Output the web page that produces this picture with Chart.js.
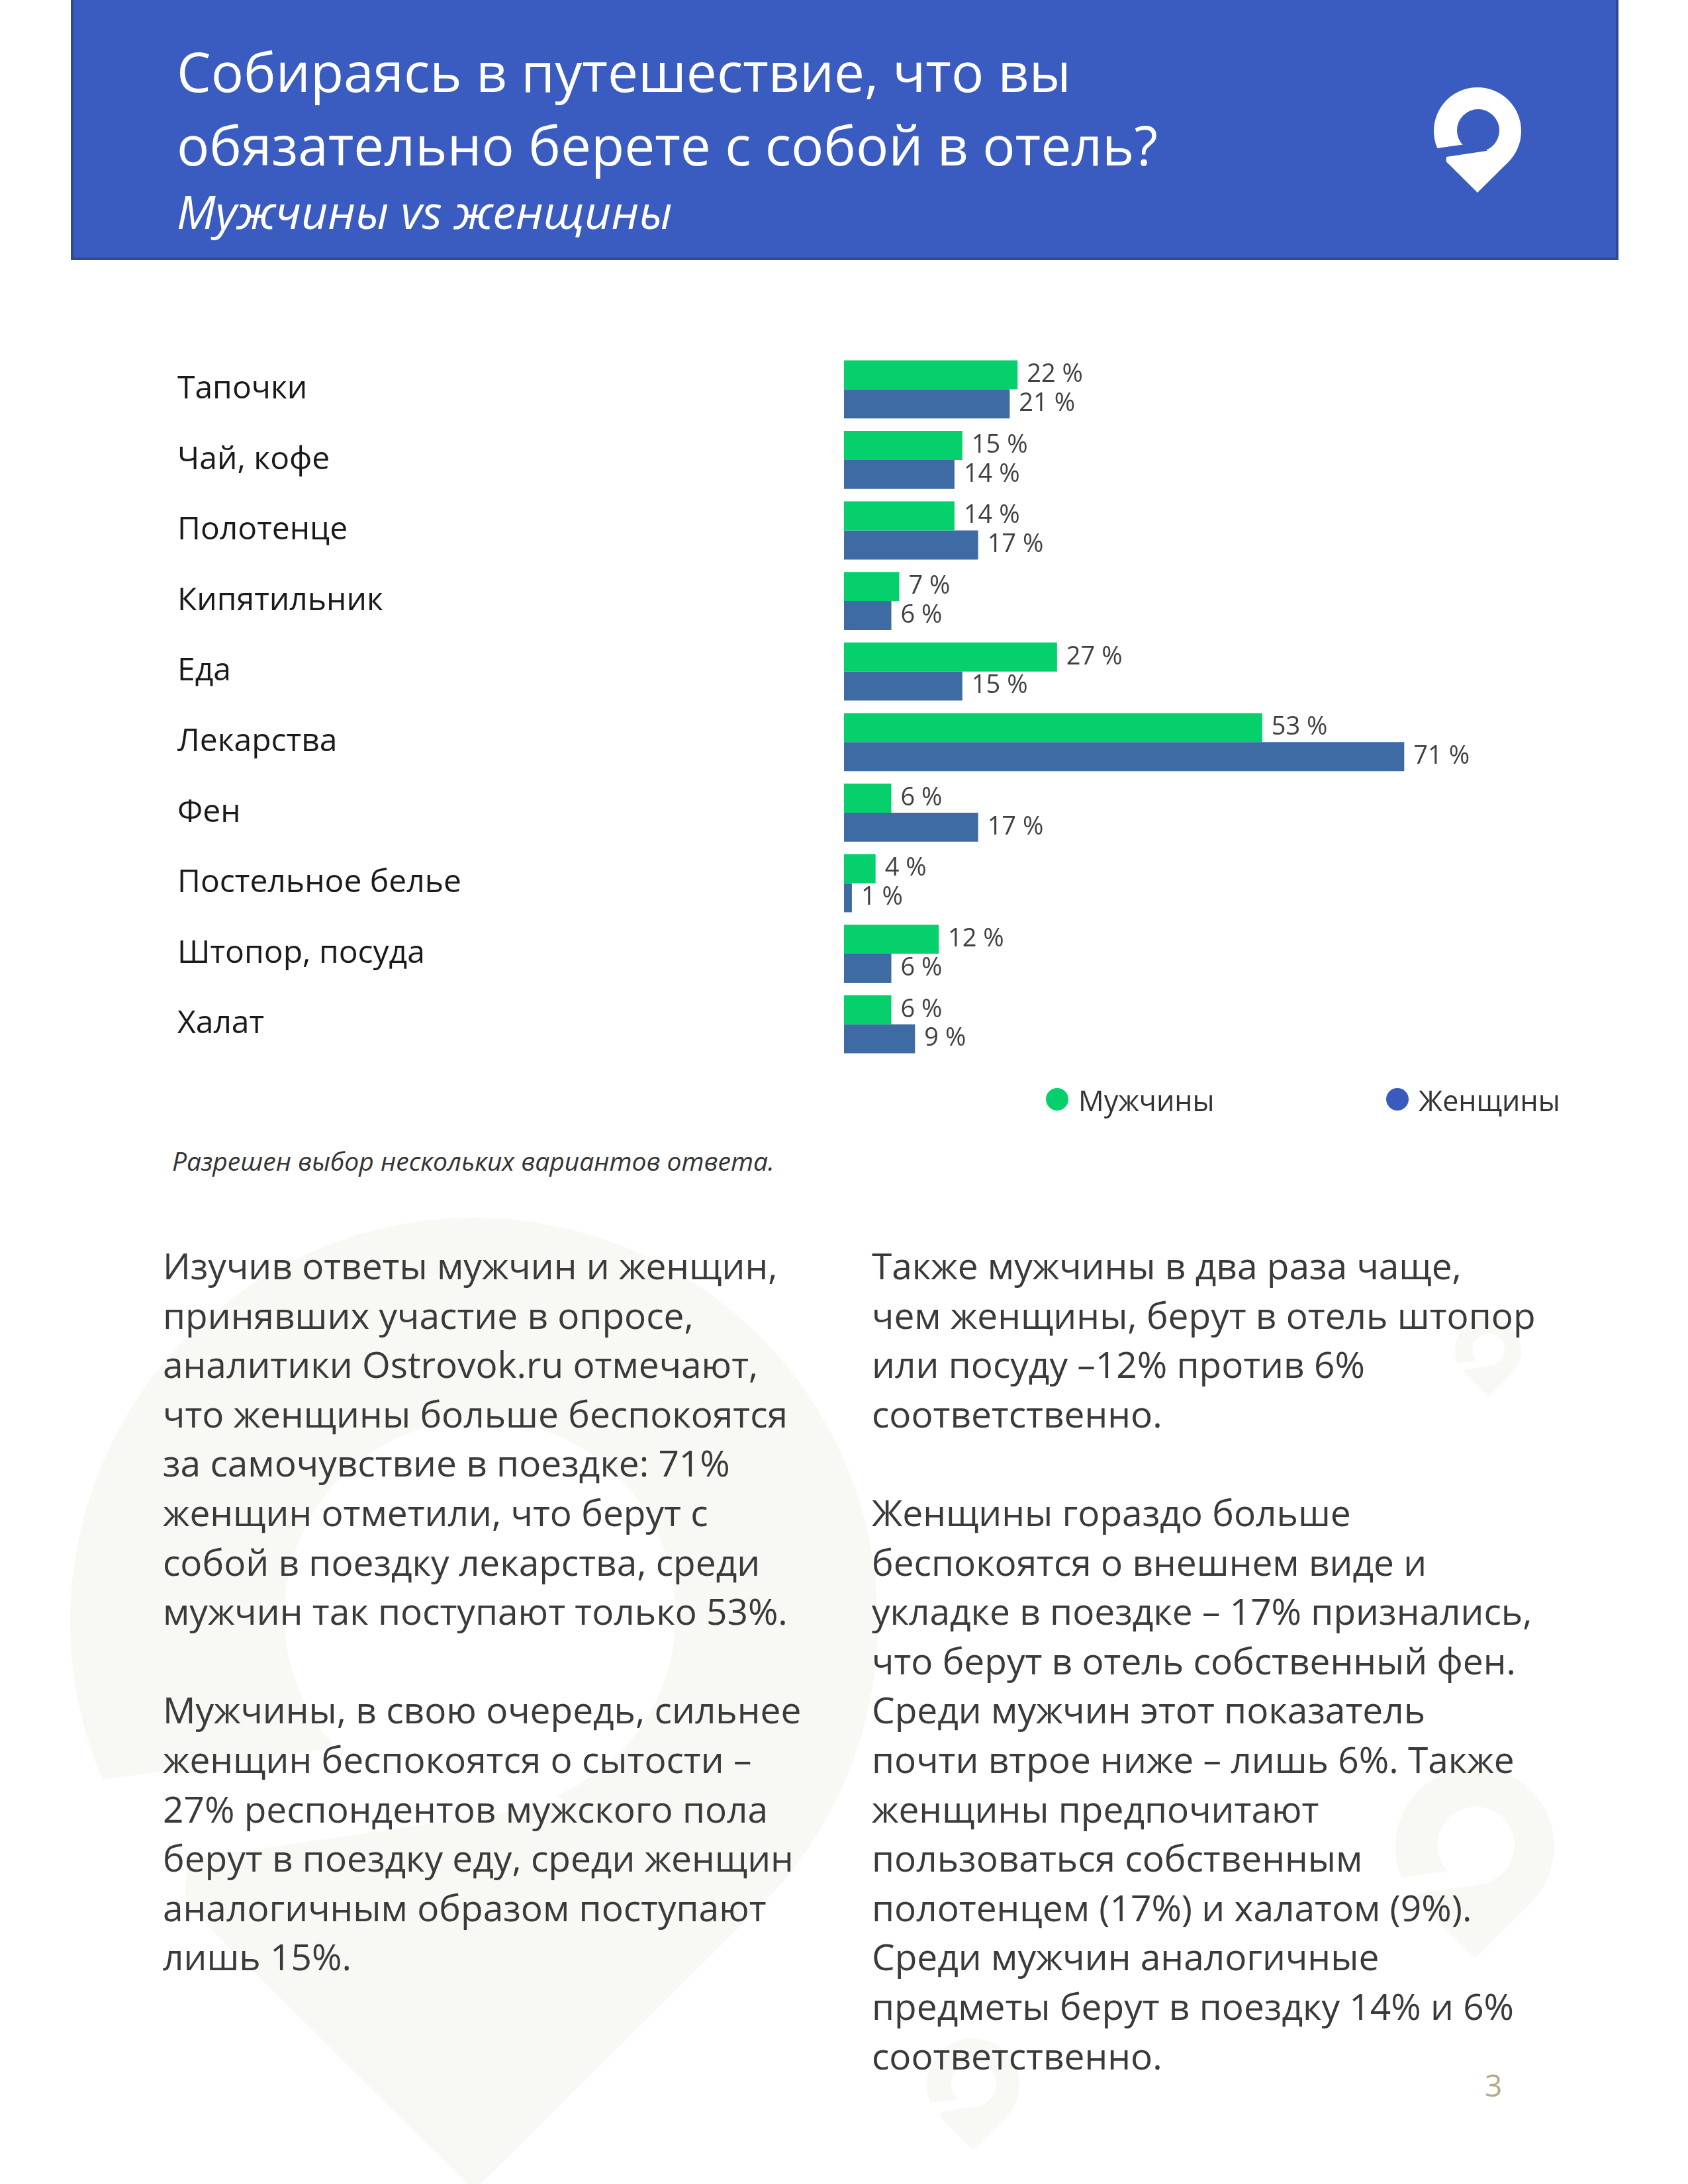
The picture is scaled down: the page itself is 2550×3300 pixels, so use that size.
<!DOCTYPE html>
<html lang="ru">
<head>
<meta charset="utf-8">
<title>Собираясь в путешествие</title>
<script src="https://cdn.jsdelivr.net/npm/chart.js@4/dist/chart.umd.min.js"></script>
<style>
  html, body { margin: 0; padding: 0; background: #ffffff; }
  body { width: 2550px; height: 3300px; position: relative; overflow: hidden; font-family: "Open Sans", sans-serif; }
  #bg { position: absolute; left: 0; top: 0; z-index: 0; }
  .header {
    position: absolute; left: 107px; top: -4px; width: 2330px; height: 389px;
    background: #3a5bbf; border: 4px solid #2f4b92; z-index: 1;
  }
  .title { position: absolute; left: 267px; color: #ffffff; font-size: 82px; line-height: 111px; white-space: nowrap; z-index: 2; }
  .subtitle { font-style: italic; font-size: 70px; }
  #logo { position: absolute; left: 0; top: 0; z-index: 2; }
  #chartBox { position: absolute; left: 268px; top: 495px; z-index: 2; }
  .legend { position: absolute; top: 1638px; font-size: 43px; line-height: 50px; color: #333333; white-space: nowrap; z-index: 2; }
  .dot { position: absolute; width: 34px; height: 34px; border-radius: 50%; top: 1644px; z-index: 2; }
  .note { position: absolute; left: 260px; top: 1729px; font-size: 39px; line-height: 50px; font-style: italic; color: #333333; white-space: nowrap; z-index: 2; }
  .col { position: absolute; top: 1875px; font-size: 55px; line-height: 74.6px; color: #3a3a3a; white-space: nowrap; z-index: 2; }
  .page { position: absolute; left: 2243px; top: 3125px; font-size: 46px; line-height: 50px; color: #b3aa8a; z-index: 2; }
</style>
</head>
<body>
<svg id="bg" width="2550" height="3300"></svg>

<div class="header"></div>
<svg id="logo" width="2550" height="400"></svg>
<div class="title" style="top:52px">Собираясь в путешествие, что вы</div>
<div class="title" style="top:163px">обязательно берете с собой в отель?</div>
<div class="title subtitle" style="top:264px">Мужчины vs женщины</div>

<div id="chartBox"><canvas id="barChart" width="2199" height="1146"></canvas></div>

<div id="legend"></div>

<div class="note">Разрешен выбор нескольких вариантов ответа.</div>

<div class="col" style="left:246px">
Изучив ответы мужчин и женщин,<br>
принявших участие в опросе,<br>
аналитики Ostrovok.ru отмечают,<br>
что женщины больше беспокоятся<br>
за самочувствие в поездке: 71%<br>
женщин отметили, что берут с<br>
собой в поездку лекарства, среди<br>
мужчин так поступают только 53%.<br>
<br>
Мужчины, в свою очередь, сильнее<br>
женщин беспокоятся о сытости –<br>
27% респондентов мужского пола<br>
берут в поездку еду, среди женщин<br>
аналогичным образом поступают<br>
лишь 15%.
</div>

<div class="col" style="left:1317px">
Также мужчины в два раза чаще,<br>
чем женщины, берут в отель штопор<br>
или посуду –12% против 6%<br>
соответственно.<br>
<br>
Женщины гораздо больше<br>
беспокоятся о внешнем виде и<br>
укладке в поездке – 17% признались,<br>
что берут в отель собственный фен.<br>
Среди мужчин этот показатель<br>
почти втрое ниже – лишь 6%. Также<br>
женщины предпочитают<br>
пользоваться собственным<br>
полотенцем (17%) и халатом (9%).<br>
Среди мужчин аналогичные<br>
предметы берут в поездку 14% и 6%<br>
соответственно.
</div>

<div class="page">3</div>

<script>
/**
 * Survey: what do travellers take to the hotel, men vs women
 */

// Chart data
const categories = [
    'Тапочки', 'Чай, кофе', 'Полотенце', 'Кипятильник', 'Еда',
    'Лекарства', 'Фен', 'Постельное белье', 'Штопор, посуда', 'Халат'
];
const seriesNames = ['Мужчины', 'Женщины'];
const menValues = [22, 15, 14, 7, 27, 53, 6, 4, 12, 6];
const womenValues = [21, 14, 17, 6, 15, 71, 17, 1, 6, 9];

// Colors
const BAR_COLORS = ['#06d06c', '#3e6ba3'];
const LEGEND_COLORS = ['#06d06c', '#3a5abd'];
const HEADER_BLUE = '#3a5bbf';
const WATERMARK = '#f8f8f4';

const LABEL_GAP = 14;

/**
 * Pin logo: ring with a slit and a point, unit radius scaled by r
 */
function pinSvg(cx, cy, r, fill, cut) {
    const p = (x, y) => `${(cx + x * r).toFixed(1)},${(cy + y * r).toFixed(1)}`;
    return `
        <circle cx="${cx}" cy="${cy}" r="${r}" fill="${fill}"/>
        <polygon points="${p(-0.705, 0.709)} ${p(0.705, 0.709)} ${p(0, 1.41)}" fill="${fill}"/>
        <circle cx="${cx + 0.015 * r}" cy="${cy - 0.015 * r}" r="${0.485 * r}" fill="${cut}"/>
        <polygon points="${p(-1.2, 0.43)} ${p(-0.39, 0.32)} ${p(0, 0.3)} ${p(0.23, 0.45)} ${p(-0.71, 0.59)} ${p(-0.75, 1.2)} ${p(-1.2, 1.2)}" fill="${cut}"/>`;
}

document.getElementById('logo').innerHTML = pinSvg(2232, 198, 66, '#ffffff', HEADER_BLUE);

document.getElementById('bg').innerHTML =
    pinSvg(716, 2450, 610, WATERMARK, '#ffffff') +
    pinSvg(2248, 2040, 50, WATERMARK, '#ffffff') +
    pinSvg(2228, 2790, 120, WATERMARK, '#ffffff') +
    pinSvg(1470, 3150, 70, WATERMARK, '#ffffff');

/**
 * Legend built from the series names
 */
function buildLegend() {
    const legend = document.getElementById('legend');
    const dotX = [1580, 2094];
    legend.innerHTML = seriesNames.map((name, i) => `
        <div class="dot" style="left:${dotX[i]}px; background:${LEGEND_COLORS[i]}"></div>
        <div class="legend" style="left:${dotX[i] + 49}px">${name}</div>
    `).join('');
}

/**
 * Draw "NN %" next to every bar
 */
const valueLabels = {
    id: 'valueLabels',
    afterDatasetsDraw(chart) {
        const ctx = chart.ctx;
        ctx.save();
        ctx.font = '38px "Open Sans"';
        ctx.fillStyle = '#404040';
        ctx.textBaseline = 'middle';
        ctx.textAlign = 'left';
        chart.data.datasets.forEach((ds, i) => {
            chart.getDatasetMeta(i).data.forEach((bar, j) => {
                ctx.fillText(`${ds.data[j]} %`, bar.x + LABEL_GAP, bar.y);
            });
        });
        ctx.restore();
    }
};

function initChart() {
    const ctx = document.getElementById('barChart').getContext('2d');
    new Chart(ctx, {
        type: 'bar',
        data: {
            labels: categories,
            datasets: [
                { label: seriesNames[0], data: menValues, backgroundColor: BAR_COLORS[0] },
                { label: seriesNames[1], data: womenValues, backgroundColor: BAR_COLORS[1] }
            ]
        },
        options: {
            indexAxis: 'y',
            responsive: false,
            devicePixelRatio: 1,
            animation: false,
            categoryPercentage: 0.824,
            barPercentage: 1.0,
            // padding larger than the tick label half-height so the plot area is fixed
            layout: { padding: { top: 40, bottom: 40, left: 0, right: 0 } },
            scales: {
                x: {
                    display: false,
                    min: 0,
                    max: 100
                },
                y: {
                    grid: { display: false },
                    border: { display: false },
                    ticks: {
                        crossAlign: 'far',
                        autoSkip: false,
                        color: '#1a1a1a',
                        font: { family: '"Open Sans"', size: 48 }
                    },
                    afterFit: (scale) => { scale.width = 1007; }
                }
            },
            plugins: {
                legend: { display: false },
                tooltip: { enabled: false }
            }
        },
        plugins: [valueLabels]
    });
}

buildLegend();
document.fonts.load('48px "Open Sans"').then(initChart, initChart);
</script>
</body>
</html>
